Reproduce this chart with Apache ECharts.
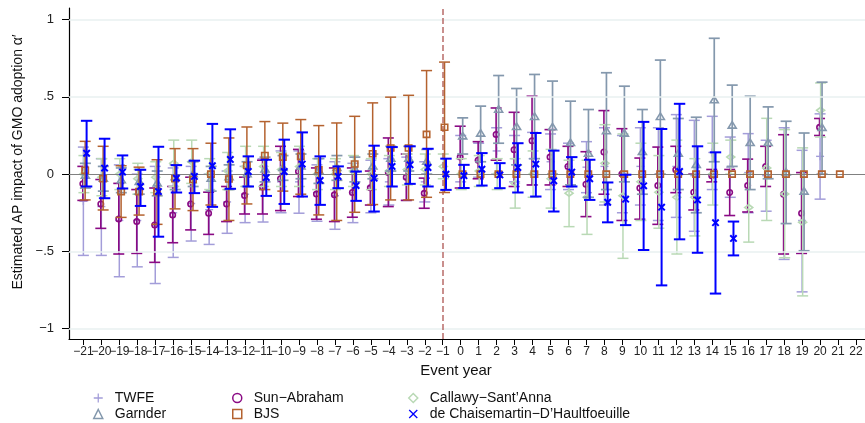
<!DOCTYPE html>
<html>
<head>
<meta charset="utf-8">
<script src="https://cdn.jsdelivr.net/npm/echarts@6/dist/echarts.min.js"></script>
<style>
html,body{margin:0;padding:0;background:#fff;}
#chart{width:865px;height:423px;}
</style>
</head>
<body>
<div id="chart"></div>
<script>
// ---------- data ----------
const years = [-21,-20,-19,-18,-17,-16,-15,-14,-13,-12,-11,-10,-9,-8,-7,-6,-5,-4,-3,-2,-1,0,1,2,3,4,5,6,7,8,9,10,11,12,13,14,15,16,17,18,19,20,21,22];
const yTicks = [-1,-0.5,0,0.5,1];

const twfeEst = [-0.175,-0.21,-0.30,-0.30,-0.33,-0.25,-0.19,-0.23,-0.18,-0.13,-0.10,-0.05,-0.05,-0.12,-0.14,-0.12,-0.08,-0.05,-0.03,-0.05,null,0.10,0.09,0.15,0.10,0.10,0.08,0.05,0.045,0.05,0.00,0.05,0.00,0.05,-0.01,0.14,0.045,0.01,-0.01,-0.13,-0.30,0.115,null,null];
const twfeLo = [-0.526,-0.526,-0.664,-0.60,-0.708,-0.539,-0.433,-0.455,-0.383,-0.314,-0.31,-0.25,-0.253,-0.305,-0.357,-0.314,-0.25,-0.20,-0.17,-0.18,null,-0.05,-0.02,0.0,-0.05,-0.07,-0.10,-0.10,-0.12,-0.20,-0.25,-0.20,-0.30,-0.28,-0.37,-0.10,-0.15,-0.25,-0.24,-0.552,-0.762,-0.162,null,null];
const twfeHi = [0.175,0.10,0.06,0.0,0.05,0.04,0.05,0.0,0.02,0.05,0.10,0.15,0.15,0.06,0.08,0.07,0.09,0.10,0.11,0.08,null,0.25,0.20,0.30,0.25,0.27,0.26,0.20,0.21,0.30,0.25,0.30,0.30,0.385,0.348,0.374,0.24,0.262,0.219,0.30,0.154,0.39,null,null];

const saEst = [-0.063,-0.193,-0.29,-0.307,-0.329,-0.264,-0.193,-0.253,-0.193,-0.139,-0.084,-0.03,0.017,-0.128,-0.134,-0.119,-0.089,0.011,-0.02,-0.124,null,0.11,0.09,0.257,0.158,0.216,0.11,0.05,-0.065,0.143,0.0,-0.09,-0.074,0.028,-0.117,-0.01,-0.119,-0.074,0.05,-0.13,-0.253,0.303,null,null];
const saLo = [-0.17,-0.351,-0.517,-0.513,-0.571,-0.444,-0.361,-0.39,-0.307,-0.258,-0.258,-0.236,-0.145,-0.292,-0.307,-0.279,-0.2,-0.21,-0.17,-0.221,null,-0.09,-0.03,0.09,-0.08,-0.07,-0.07,-0.08,-0.275,-0.13,-0.3,-0.292,-0.325,-0.12,-0.232,-0.05,-0.268,-0.245,-0.08,-0.517,-0.513,0.25,null,null];
const saHi = [0.05,-0.035,-0.06,-0.1,-0.09,-0.08,-0.02,-0.117,-0.08,-0.02,0.09,0.18,0.16,0.04,0.04,0.04,0.02,0.234,0.13,-0.026,null,0.31,0.21,0.428,0.4,0.504,0.288,0.18,0.145,0.411,0.294,0.104,0.175,0.18,0.0,0.03,0.03,0.097,0.18,0.255,0.01,0.36,null,null];

const csEst = [0.0,-0.02,0.0,-0.03,-0.02,0.07,0.08,0.0,0.02,0.05,0.05,0.03,0.05,0.0,0.0,0.02,0.0,0.02,0.03,0.03,0.05,0.0,0.02,0.0,-0.06,0.0,-0.03,-0.123,-0.15,0.07,-0.14,-0.05,-0.117,-0.15,-0.15,0.0,0.11,-0.216,0.04,-0.128,-0.312,0.413,null,null];
const csLo = [-0.12,-0.14,-0.1,-0.13,-0.12,-0.08,-0.06,-0.1,-0.1,-0.08,-0.08,-0.08,-0.08,-0.1,-0.1,-0.08,-0.1,-0.08,-0.07,-0.07,-0.03,-0.1,-0.08,-0.1,-0.22,-0.15,-0.22,-0.34,-0.39,-0.18,-0.545,-0.3,-0.35,-0.517,-0.4,-0.2,0.0,-0.44,-0.3,-0.541,-0.788,0.24,null,null];
const csHi = [0.12,0.1,0.1,0.07,0.08,0.22,0.22,0.1,0.14,0.18,0.18,0.14,0.18,0.1,0.1,0.12,0.1,0.12,0.13,0.13,0.13,0.1,0.12,0.1,0.1,0.15,0.16,0.09,0.09,0.32,0.26,0.2,0.12,0.22,0.1,0.2,0.22,0.0,0.361,0.288,0.17,0.59,null,null];

const gardEst = [-0.01,-0.03,-0.04,-0.05,-0.06,-0.02,0.0,-0.03,-0.02,0.0,0.03,0.04,0.05,0.02,0.04,0.03,0.05,0.1,0.1,0.08,null,0.244,0.262,0.417,0.305,0.37,0.303,0.201,0.132,0.277,0.262,0.143,0.37,0.132,0.06,0.478,0.314,0.201,0.201,0.01,-0.113,0.299,null,null];
const gardLo = [-0.09,-0.11,-0.12,-0.13,-0.14,-0.10,-0.08,-0.11,-0.10,-0.08,-0.05,-0.04,-0.03,-0.06,-0.04,-0.05,-0.03,0.02,0.02,0.00,null,0.13,0.08,0.2,0.06,0.1,0.0,-0.07,-0.15,-0.1,-0.05,-0.13,0.0,-0.1,-0.25,0.08,0.05,-0.1,-0.03,-0.32,-0.496,0.0,null,null];
const gardHi = [0.07,0.05,0.04,0.03,0.02,0.06,0.08,0.05,0.06,0.08,0.11,0.12,0.13,0.10,0.12,0.11,0.13,0.18,0.18,0.16,null,0.364,0.44,0.638,0.554,0.645,0.602,0.472,0.418,0.656,0.569,0.418,0.738,0.36,0.368,0.879,0.576,0.504,0.435,0.342,0.266,0.595,null,null];

const bjsEst = [0.025,-0.03,-0.113,-0.113,-0.113,-0.03,-0.035,0.0,-0.032,0.056,0.12,0.11,0.115,0.028,0.017,0.065,0.132,0.169,0.169,0.257,0.303,0,0,0,0,0,0,0,0,0,0,0,0,0,0,0,0,0,0,0,0,0,0,null];
const bjsLo = [-0.167,-0.232,-0.28,-0.265,-0.325,-0.225,-0.236,-0.2,-0.3,-0.193,-0.1,-0.11,-0.13,-0.264,-0.3,-0.247,-0.197,-0.167,-0.167,-0.15,-0.119,null,null,null,null,null,null,null,null,null,null,null,null,null,null,null,null,null,null,null,null,null,null,null];
const bjsHi = [0.212,0.18,0.054,0.045,0.093,0.165,0.165,0.2,0.234,0.305,0.34,0.33,0.353,0.314,0.331,0.374,0.461,0.498,0.51,0.67,0.725,null,null,null,null,null,null,null,null,null,null,null,null,null,null,null,null,null,null,null,null,null,null,null];

const dcdhEst = [0.135,0.039,0.013,-0.08,-0.113,-0.026,-0.015,0.054,0.095,0.017,-0.022,0.017,0.065,-0.041,-0.015,-0.074,-0.026,0.05,0.06,0.043,0.0,-0.01,0.032,-0.005,0.043,0.065,-0.043,0.013,-0.03,-0.182,-0.162,-0.076,-0.214,0.017,-0.167,-0.314,-0.416,null,null,null,null,null,null,null];
const dcdhLo = [-0.08,-0.156,-0.093,-0.206,-0.405,-0.119,-0.123,-0.212,-0.095,-0.08,-0.141,-0.193,-0.145,-0.199,-0.091,-0.173,-0.242,-0.08,-0.063,-0.08,-0.102,-0.09,-0.074,-0.091,-0.119,-0.145,-0.242,-0.08,-0.167,-0.312,-0.33,-0.491,-0.72,-0.422,-0.509,-0.773,-0.526,null,null,null,null,null,null,null];
const dcdhHi = [0.345,0.229,0.121,0.028,0.177,0.058,0.087,0.325,0.29,0.115,0.093,0.223,0.27,0.115,0.05,0.017,0.184,0.175,0.18,0.164,0.1,0.06,0.136,0.071,0.2,0.266,0.152,0.11,0.093,-0.054,-0.004,0.338,0.292,0.455,0.18,0.141,-0.307,null,null,null,null,null,null,null];

const seriesNames = ['TWFE','Sun\u2212Abraham','Callawy\u2212Sant\u2019Anna','Garnder','BJS','de Chaisemartin\u2212D\u2019Haultfoeuille'];

// ---------- rendering ----------
const FONT = '"Liberation Sans", Arial, Helvetica, sans-serif';
const minus = s => String(s).replace('-', '\u2212');
const oddYears = years.filter(y => Math.abs(y) % 2 === 1);
const evenYears = years.filter(y => Math.abs(y) % 2 === 0);

function markerShapes(kind, p, color) {
  const [cx, cy] = p;
  const st = {stroke: color, fill: 'none', lineWidth: 1.6};
  switch (kind) {
    case 'plus': return [
      {type:'line', shape:{x1:cx-4, y1:cy, x2:cx+4, y2:cy}, style:{stroke:color, lineWidth:1.4}},
      {type:'line', shape:{x1:cx, y1:cy-4, x2:cx, y2:cy+4}, style:{stroke:color, lineWidth:1.4}}];
    case 'circle': return [{type:'circle', shape:{cx, cy, r:2.7}, style:st}];
    case 'diamond': return [{type:'polygon', shape:{points:[[cx,cy-3],[cx+4,cy],[cx,cy+3],[cx-4,cy]]}, style:st}];
    case 'triangle': return [{type:'polygon', shape:{points:[[cx,cy-4],[cx+4,cy+2.5],[cx-4,cy+2.5]]}, style:st}];
    case 'square': return [{type:'rect', shape:{x:cx-3.2, y:cy-3, width:6.4, height:6}, style:st}];
    case 'cross': return [
      {type:'line', shape:{x1:cx-3.2, y1:cy-3.2, x2:cx+3.2, y2:cy+3.2}, style:{stroke:color, lineWidth:2}},
      {type:'line', shape:{x1:cx-3.2, y1:cy+3.2, x2:cx+3.2, y2:cy-3.2}, style:{stroke:color, lineWidth:2}}];
  }
  return [];
}

function makeSeries(name, est, lo, hi, cfg) {
  const data = [];
  years.forEach((y, i) => { if (est[i] !== null) data.push([y, est[i], lo[i], hi[i]]); });
  return {
    name, type: 'custom', data, z: cfg.z,
    encode: {x: 0, y: [1, 2, 3]},
    silent: true,
    itemStyle: {color: cfg.color},
    renderItem: function (params, api) {
      const x = api.value(0) + cfg.dx;
      const e = api.value(1), l = api.value(2), h = api.value(3);
      const children = [];
      if (!isNaN(l) && !isNaN(h)) {
        const pl = api.coord([x, l]), ph = api.coord([x, h]);
        const ls = {stroke: cfg.color, lineWidth: cfg.lw};
        children.push({type:'line', shape:{x1:pl[0], y1:pl[1], x2:ph[0], y2:ph[1]}, style:ls});
        children.push({type:'line', shape:{x1:pl[0]-cfg.cap, y1:pl[1], x2:pl[0]+cfg.cap, y2:pl[1]}, style:ls});
        children.push({type:'line', shape:{x1:ph[0]-cfg.cap, y1:ph[1], x2:ph[0]+cfg.cap, y2:ph[1]}, style:ls});
      }
      const pe = api.coord([x, e]);
      markerShapes(cfg.marker, pe, cfg.mcolor || cfg.color).forEach(c => children.push(c));
      return {type: 'group', children};
    }
  };
}

const C = {
  twfe: '#a39dd9', sa: '#8a0a84', cs: '#b9d9b5', gard: '#8498ad', bjs: '#b4622f', dcdh: '#0000ff'
};

const series = [
  {type:'line', data:[], silent:true, z:1,
   markLine:{silent:true, symbol:'none', animation:false, label:{show:false},
     data:[
       {yAxis:1, lineStyle:{color:'#e8f0f1', width:1.5, type:'solid'}},
       {yAxis:0.5, lineStyle:{color:'#e8f0f1', width:1.5, type:'solid'}},
       {yAxis:-0.5, lineStyle:{color:'#e8f0f1', width:1.5, type:'solid'}},
       {yAxis:-1, lineStyle:{color:'#e8f0f1', width:1.5, type:'solid'}},
       {yAxis:0, lineStyle:{color:'#808080', width:1.2, type:'solid'}},
       {xAxis:-1, lineStyle:{color:'#b86b68', width:1.5, type:[6,3]}}
     ]}},
  makeSeries(seriesNames[0], twfeEst, twfeLo, twfeHi, {color:C.twfe, dx:0.0, lw:1.5, cap:5.5, marker:'plus', z:2}),
  makeSeries(seriesNames[1], saEst, saLo, saHi, {color:C.sa, dx:-0.03, lw:1.6, cap:5.5, marker:'circle', z:3}),
  makeSeries(seriesNames[2], csEst, csLo, csHi, {color:C.cs, dx:0.03, lw:1.5, cap:5.5, marker:'diamond', z:3}),
  makeSeries(seriesNames[3], gardEst, gardLo, gardHi, {color:C.gard, dx:0.11, lw:1.7, cap:5.5, marker:'triangle', z:4}),
  makeSeries(seriesNames[4], bjsEst, bjsLo, bjsHi, {color:C.bjs, dx:0.1, lw:1.5, cap:5.5, marker:'square', z:5}),
  makeSeries(seriesNames[5], dcdhEst, dcdhLo, dcdhHi, {color:C.dcdh, dx:0.18, lw:2, cap:5.7, marker:'cross', z:6})
];

const legendBase = {
  orient:'vertical', top:391, height:70, width:300, itemGap:2, itemWidth:9, itemHeight:9,
  selectedMode:false, padding:0,
  textStyle:{fontFamily:FONT, fontSize:14, color:'#111', padding:[0,0,0,7]}
};
const plusIcon = 'path://M4.3,0H5.7V4.3H10V5.7H5.7V10H4.3V5.7H0V4.3H4.3Z';
const crossIcon = 'path://M1,0L5,4L9,0L10,1L6,5L10,9L9,10L5,6L1,10L0,9L4,5L0,1Z';
const outline = c => ({color:'#ffffff', borderColor:c, borderWidth:1.5});

const xLabelBase = {show:true, formatter:v => minus(v), fontFamily:FONT, fontSize:12, color:'#222', margin:7, hideOverlap:false, showMinLabel:true, showMaxLabel:true};

const option = {
  animation:false,
  backgroundColor:'#ffffff',
  grid:{left:69, right:0, top:8, bottom:84, outerBoundsMode:'none'},
  xAxis:[{
    type:'value', min:-21.8, max:22.5, position:'bottom',
    axisLine:{show:true, onZero:false, lineStyle:{color:'#000', width:1.2}},
    axisTick:{show:true, customValues:years, length:6, lineStyle:{color:'#000', width:1}},
    axisLabel:Object.assign({customValues:oddYears}, xLabelBase),
    splitLine:{show:false}
  },{
    type:'value', min:-21.8, max:22.5, position:'bottom', offset:0,
    axisLine:{show:false, onZero:false},
    axisTick:{show:false},
    axisLabel:Object.assign({customValues:evenYears}, xLabelBase),
    splitLine:{show:false}
  }],
  yAxis:{
    type:'value', min:-1.067, max:1.075,
    axisLine:{show:true, onZero:false, lineStyle:{color:'#000', width:1.2}},
    axisTick:{show:true, customValues:yTicks, length:7, lineStyle:{color:'#000', width:1}},
    axisLabel:{show:true, customValues:yTicks, fontFamily:FONT, fontSize:13, color:'#222', margin:15,
      formatter:v => { let s = String(v).replace('0.', '.'); return minus(s); }},
    splitLine:{show:false}
  },
  legend:[
    Object.assign({}, legendBase, {left:93, data:[
      {name:seriesNames[0], icon:plusIcon, itemStyle:{color:C.twfe}},
      {name:seriesNames[3], icon:'triangle', itemStyle:outline(C.gard)}]}),
    Object.assign({}, legendBase, {left:232, data:[
      {name:seriesNames[1], icon:'circle', itemStyle:outline(C.sa)},
      {name:seriesNames[4], icon:'rect', itemStyle:outline(C.bjs)}]}),
    Object.assign({}, legendBase, {left:408, data:[
      {name:seriesNames[2], icon:'diamond', itemStyle:outline(C.cs)},
      {name:seriesNames[5], icon:crossIcon, itemStyle:{color:C.dcdh}}]})
  ],
  graphic:[
    {type:'text', x:18, y:162, rotation:Math.PI/2,
     style:{text:'Estimated AP impact of GMO adoption \u03b1\u2032', font:'14px ' + FONT, fill:'#111', align:'center', verticalAlign:'middle'}},
    {type:'text', x:456, y:371,
     style:{text:'Event year', font:'15px ' + FONT, fill:'#111', align:'center', verticalAlign:'middle'}}
  ],
  series
};

const chart = echarts.init(document.getElementById('chart'), null, {renderer:'canvas'});
chart.setOption(option);
</script>
</body>
</html>
